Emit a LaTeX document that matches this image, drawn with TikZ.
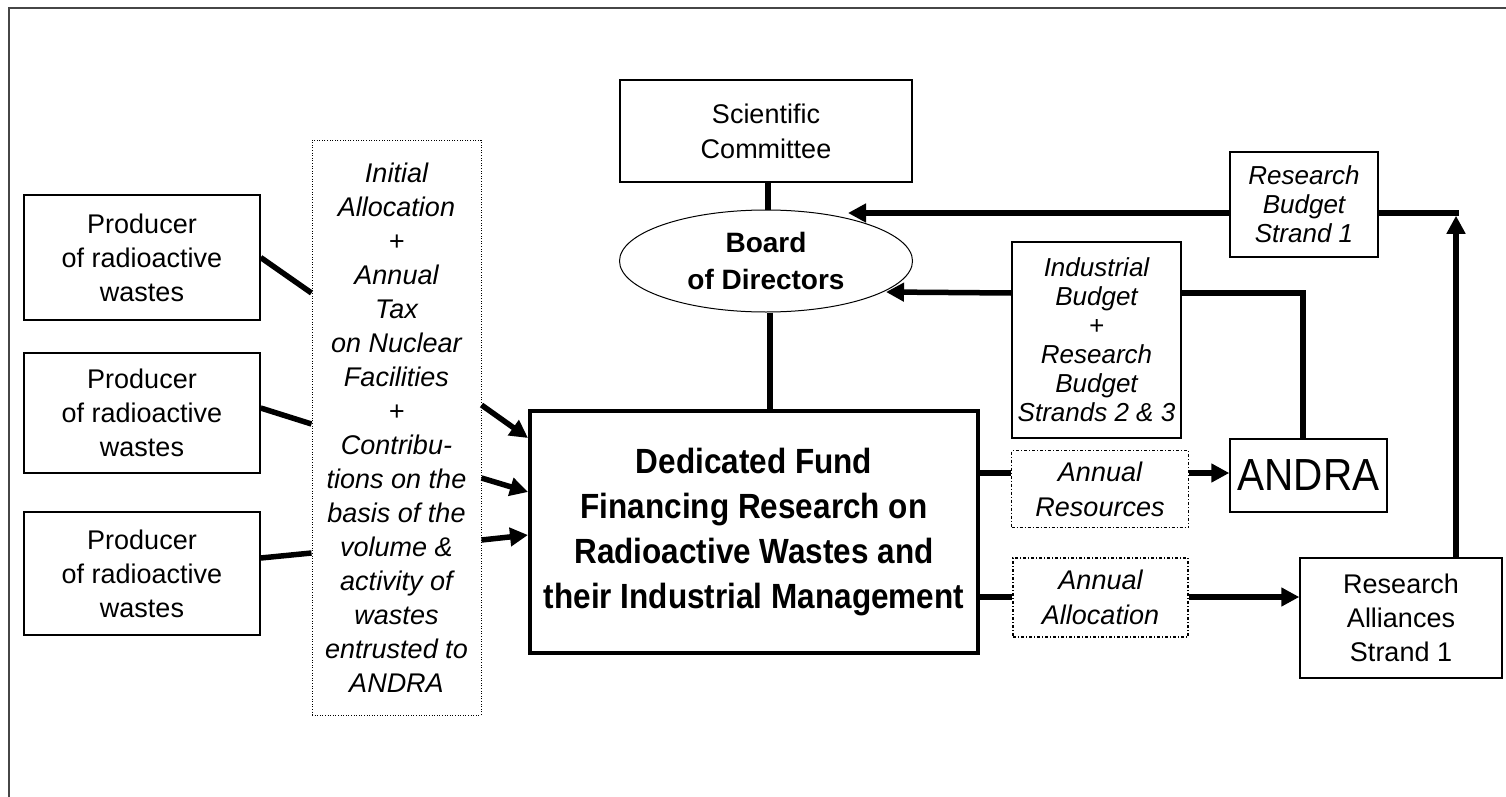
\documentclass[tikz,border=0pt]{standalone}
\usepackage{fontspec}
\setmainfont{Liberation Sans}
\newfontfamily\cond{Liberation Sans}[FakeStretch=0.9]
\usetikzlibrary{arrows.meta,shapes.geometric,calc}
\definecolor{framegray}{RGB}{70,70,70}
\begin{document}
\begin{tikzpicture}[x=1pt,y=-1pt,
  box/.style={draw,line width=1.4pt,inner sep=0pt,align=center},
  dotbox/.style={draw,line width=1pt,dash pattern=on 1pt off 1.6pt,inner sep=0pt,align=center},
  dashbox/.style={draw,line width=1.6pt,dash pattern=on 3pt off 2pt on 1pt off 2pt,inner sep=0pt,align=center},
  conn/.style={line width=5.5pt},
  arr/.style={line width=5.5pt,-{Triangle[length=18pt,width=18pt]}},
  regtext/.style={font=\fontsize{27}{34}\selectfont},
  ittext/.style={font=\fontsize{27}{34}\selectfont\itshape},
  ittight/.style={font=\fontsize{26}{29}\selectfont\itshape}]
\useasboundingbox (0,0) rectangle (1506,797);
\fill[white] (0,0) rectangle (1506,797);
\draw[framegray,line width=2pt] (9,797) -- (9,8) -- (1506,8);

% producers
\node[box,regtext,minimum width=236pt,minimum height=125pt] (p1) at (142,257.5) {Producer\\of radioactive\\wastes};
\node[box,regtext,minimum width=236pt,minimum height=120pt] (p2) at (142,413) {Producer\\of radioactive\\wastes};
\node[box,regtext,minimum width=236pt,minimum height=123pt] (p3) at (142,573.5) {Producer\\of radioactive\\wastes};

% info dotted box
\node[dotbox,ittext,minimum width=169pt,minimum height=575pt] (info) at (396.5,427.5)
  {Initial\\Allocation\\+\\Annual\\Tax\\on Nuclear\\Facilities\\+\\Contribu-\\tions on the\\basis of the\\volume \&\\activity of\\wastes\\entrusted to\\ANDRA};

% scientific committee and board
\node[box,regtext,minimum width=292pt,minimum height=102pt,font=\fontsize{27}{35}\selectfont] (sc) at (766,131) {Scientific\\Committee};
\node[draw,ellipse,line width=1pt,inner sep=0pt,minimum width=293pt,minimum height=102pt,align=center,
      font=\fontsize{28}{37}\selectfont\bfseries] (board) at (766,261) {Board\\of Directors};

% fund
\node[draw,line width=4pt,inner sep=0pt,minimum width=448pt,minimum height=242pt,align=center,
      font=\fontsize{35}{45}\selectfont\cond\bfseries] (fund) at (754,532)
  {Dedicated Fund\\Financing Research on\\Radioactive Wastes and\\their Industrial Management};

% right side
\node[box,ittight,minimum width=148pt,minimum height=105pt] (rb1) at (1304,204.5) {Research\\Budget\\Strand 1};
\node[box,ittight,minimum width=169pt,minimum height=196pt] (ib) at (1096.5,340)
  {Industrial\\Budget\\+\\Research\\Budget\\Strands 2 \& 3};
\node[dashbox,ittext,minimum width=177pt,minimum height=77pt,font=\fontsize{27}{35}\selectfont\itshape] (ar) at (1100,489) {Annual\\Resources};
\node[box,minimum width=157pt,minimum height=73pt,font=\fontsize{45}{50}\selectfont\cond] (andra) at (1308.5,475.5) {ANDRA};
\node[dashbox,ittext,minimum width=175pt,minimum height=79pt,font=\fontsize{27}{35}\selectfont\itshape] (aa) at (1100.5,597.5) {Annual\\Allocation};
\node[box,regtext,minimum width=202pt,minimum height=120pt] (ra) at (1401,618) {Research\\Alliances\\Strand 1};

\coordinate (j1) at (1456,213);
\coordinate (j2) at (1303,293);

% producer connectors
\draw[conn] (p1.east) -- (info.west |- 0,293);
\draw[conn] (p2.east |- 0,408) -- (info.west |- 0,424);
\draw[conn] (p3.east |- 0,558) -- (info.west |- 0,553);
\draw[arr] (info.east |- 0,405) -- (fund.west |- 0,438);
\draw[arr] (info.east |- 0,478) -- (fund.west |- 0,492);
\draw[arr] (info.east |- 0,540) -- (fund.west |- 0,535);

% vertical hierarchy
\draw[conn] (sc.south -| 768,0) -- (board.north -| 768,0);
\draw[conn] (board.south -| 770,0) -- (fund.north -| 770,0);

% fund outputs
\draw[conn] (fund.east |- 0,473) -- (ar.west |- 0,473);
\draw[arr] (ar.east |- 0,473) -- (andra.west |- 0,473);
\draw[conn] (fund.east |- 0,597) -- (aa.west |- 0,597);
\draw[arr] (aa.east |- 0,597) -- (ra.west |- 0,597);

% budgets back to board
\draw[conn] (andra.north -| j2) -- (j2) -- (ib.east |- j2);
\draw[arr] (ib.west |- j2) -- ($(board.center)+(120,31)$);
\draw[arr] (ra.north -| j1) -- ([yshift=-2.75pt]j1);
\draw[conn] ([xshift=2.75pt]j1) -- (rb1.east |- j1);
\draw[arr] (rb1.west |- j1) -- ($(board.center)+(82,-48)$);
\end{tikzpicture}
\end{document}
